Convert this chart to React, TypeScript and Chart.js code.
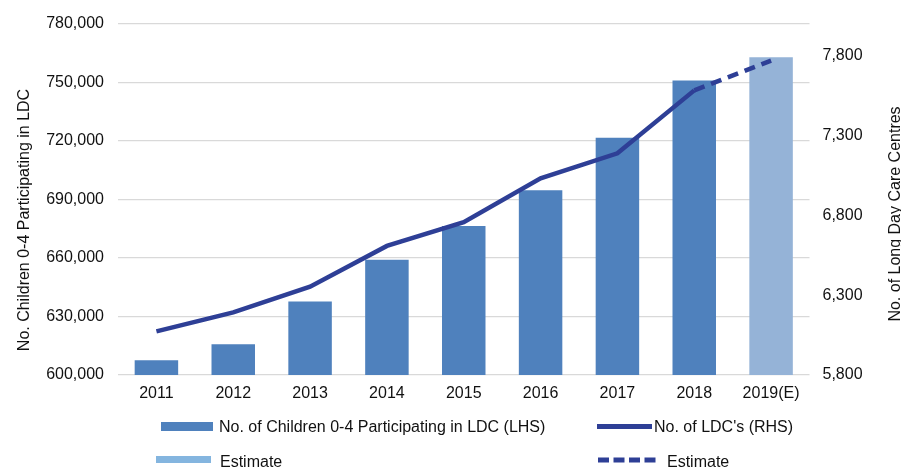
import React, { useEffect, useRef } from "react";
import { Chart, registerables } from "chart.js";

Chart.register(...registerables);

const YEARS = ["2011", "2012", "2013", "2014", "2015", "2016", "2017", "2018", "2019(E)"];
const CHILDREN = [607600, 615800, 637600, 659000, 676300, 694600, 721500, 750900, 762700];
const CENTRES = [6073, 6192, 6353, 6608, 6757, 7031, 7188, 7582, 7768];
const LHS_TICKS = [600000, 630000, 660000, 690000, 720000, 750000, 780000];
const RHS_TICKS = [5800, 6300, 6800, 7300, 7800];

const LEFT_TITLE = "No. Children 0-4 Participating in LDC";
const RIGHT_TITLE = "No. of Long Day Care Centres";
const LEGEND_BAR = "No. of Children 0-4 Participating in LDC (LHS)";
const LEGEND_LINE = "No. of LDC's (RHS)";
const LEGEND_EST = "Estimate";

const BAR = "#4F81BD";
const BAR_EST = "#95B3D7";
const EST_LEGEND = "#84B5DF";
const LINE = "#2E3F96";
const GRID = "#D9D9D9";
const TEXT = "#111111";
const FONT_FAMILY = '"Liberation Sans", Arial, sans-serif';

const fmt = (v: number) => Number(v).toLocaleString("en-US");

const decorPlugin = {
  id: "decor",
  afterDraw(chart: any) {
    const ctx = chart.ctx as CanvasRenderingContext2D;
    ctx.save();
    ctx.font = `16px ${FONT_FAMILY}`;
    ctx.fillStyle = TEXT;
    ctx.textBaseline = "alphabetic";

    // axis titles
    ctx.textAlign = "center";
    ctx.save();
    ctx.translate(29, 220);
    ctx.rotate(-Math.PI / 2);
    ctx.fillText(LEFT_TITLE, 0, 0);
    ctx.restore();
    ctx.save();
    ctx.translate(900, 214);
    ctx.rotate(-Math.PI / 2);
    ctx.fillText(RIGHT_TITLE, 0, 0);
    ctx.restore();

    // legend
    ctx.textAlign = "left";
    ctx.fillStyle = BAR;
    ctx.fillRect(161, 422, 52, 9);
    ctx.fillStyle = TEXT;
    ctx.fillText(LEGEND_BAR, 219, 432);

    ctx.strokeStyle = LINE;
    ctx.lineWidth = 5;
    ctx.beginPath();
    ctx.moveTo(597, 426.5);
    ctx.lineTo(652, 426.5);
    ctx.stroke();
    ctx.fillText(LEGEND_LINE, 654, 432);

    ctx.fillStyle = EST_LEGEND;
    ctx.fillRect(156, 456, 55, 7);
    ctx.fillStyle = TEXT;
    ctx.fillText(LEGEND_EST, 220, 466.5);

    ctx.setLineDash([11, 4.5]);
    ctx.beginPath();
    ctx.moveTo(598, 460);
    ctx.lineTo(655.5, 460);
    ctx.stroke();
    ctx.setLineDash([]);
    ctx.fillText(LEGEND_EST, 667, 466.5);
    ctx.restore();
  },
};

export default function App() {
  const canvasRef = useRef<HTMLCanvasElement | null>(null);

  useEffect(() => {
    if (!canvasRef.current) return;
    const font = { family: FONT_FAMILY, size: 16 };
    const chart = new Chart(canvasRef.current, {
      type: "bar",
      data: {
        labels: YEARS,
        datasets: [
          {
            type: "line",
            label: LEGEND_LINE,
            data: CENTRES,
            yAxisID: "y1",
            borderColor: LINE,
            backgroundColor: LINE,
            borderWidth: 4.5,
            pointRadius: 0,
            tension: 0,
            order: 0,
            segment: {
              borderDash: (c: any) => (c.p0DataIndex >= 7 ? [11, 7] : undefined),
            },
          } as any,
          {
            type: "bar",
            label: LEGEND_BAR,
            data: CHILDREN,
            yAxisID: "y",
            backgroundColor: CHILDREN.map((_, i) => (i === CHILDREN.length - 1 ? BAR_EST : BAR)),
            barPercentage: 0.566,
            categoryPercentage: 1,
            order: 1,
          } as any,
        ],
      },
      options: {
        animation: false,
        responsive: true,
        maintainAspectRatio: false,
        layout: { padding: { top: 21, left: 0, right: 0, bottom: 0 } },
        plugins: { legend: { display: false }, tooltip: { enabled: false } },
        scales: {
          x: {
            grid: { display: false, drawTicks: false },
            border: { display: false },
            ticks: { font, color: TEXT, padding: 9, maxRotation: 0 },
            afterFit: (s: any) => {
              s.height = 92;
            },
          },
          y: {
            position: "left",
            min: LHS_TICKS[0],
            max: LHS_TICKS[LHS_TICKS.length - 1],
            afterBuildTicks: (s: any) => {
              s.ticks = LHS_TICKS.map((v) => ({ value: v }));
            },
            ticks: { font, color: TEXT, padding: 14, callback: (v: any) => fmt(v) },
            grid: { color: GRID, lineWidth: 1.3, drawTicks: false },
            border: { display: false },
            afterFit: (s: any) => {
              s.width = 118;
            },
          },
          y1: {
            position: "right",
            min: 5800,
            max: 8000,
            afterBuildTicks: (s: any) => {
              s.ticks = RHS_TICKS.map((v) => ({ value: v }));
            },
            ticks: { font, color: TEXT, padding: 13, callback: (v: any) => fmt(v) },
            grid: { display: false, drawTicks: false },
            border: { display: false },
            afterFit: (s: any) => {
              s.width = 901 - 809.5;
            },
          },
        },
      } as any,
      plugins: [decorPlugin],
    });
    return () => chart.destroy();
  }, []);

  return (
    <div
      style={{
        position: "fixed",
        left: 0,
        top: 0,
        width: 901,
        height: 467,
        overflow: "hidden",
        background: "#ffffff",
      }}
    >
      <div style={{ position: "relative", width: 901, height: 467 }}>
        <canvas ref={canvasRef} />
      </div>
    </div>
  );
}
